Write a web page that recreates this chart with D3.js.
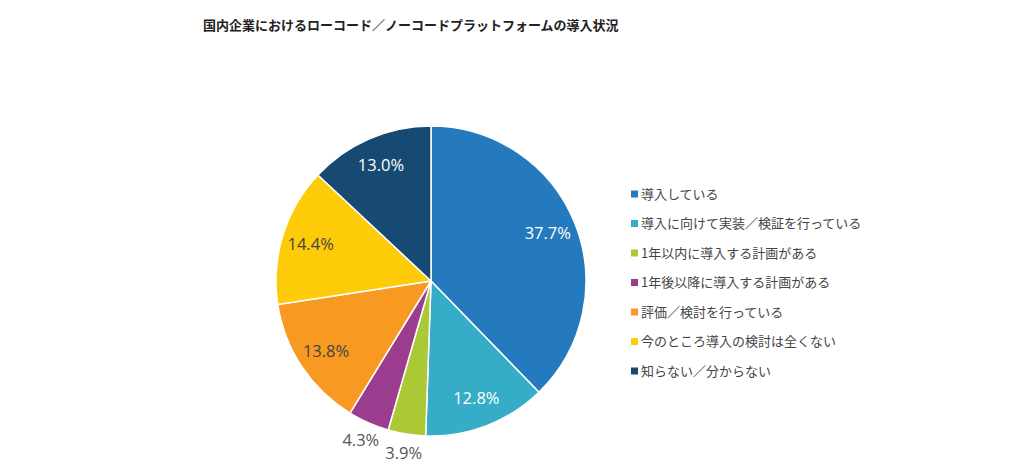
<!DOCTYPE html>
<html><head><meta charset="utf-8">
<script src="https://cdn.jsdelivr.net/npm/d3@7"></script>
<style>
html,body{margin:0;padding:0;background:#fff;}
svg{display:block;}
</style></head>
<body>
<svg id="chart" width="1024" height="466"></svg>
<script>
const title = "国内企業におけるローコード／ノーコードプラットフォームの導入状況";
const categories = ["導入している","導入に向けて実装／検証を行っている","1年以内に導入する計画がある","1年後以降に導入する計画がある","評価／検討を行っている","今のところ導入の検討は全くない","知らない／分からない"];
const values = [37.7, 12.8, 3.9, 4.3, 13.8, 14.4, 13.0];
const colors = ["#2579bd","#36adc6","#abc934","#9b3c8e","#f89a21","#fecb09","#164a72"];
const labelColors = ["#ffffff","#ffffff","#555555","#555555","#444444","#444444","#ffffff"];

const svg = d3.select("#chart");
const font = "'Open Sans','Noto Sans CJK JP',sans-serif";

svg.append("text").attr("x",203).attr("y",30)
  .attr("font-family","'Noto Sans CJK JP',sans-serif").attr("font-weight","bold")
  .attr("font-size",13).attr("fill","#222").text(title);

const cx = 431, cy = 281, R = 155;
const data = categories.map((c,i)=>({name:c,value:values[i],i}));
const pie = d3.pie().value(d=>d.value).sort(null);
const arcs = pie(data);
const arc = d3.arc().innerRadius(0).outerRadius(R);
const g = svg.append("g").attr("transform",`translate(${cx},${cy})`);
g.selectAll("path").data(arcs).enter().append("path")
  .attr("d",arc).attr("fill",d=>colors[d.data.i])
  .attr("stroke","#fff").attr("stroke-width",1.5).attr("stroke-linejoin","round");

const inArc = d3.arc().innerRadius(126).outerRadius(126);
const outArc = d3.arc().innerRadius(174).outerRadius(174);
g.selectAll("text.lbl").data(arcs).enter().append("text")
  .attr("class","lbl")
  .attr("transform",d=>{
    const small = d.data.value < 5;
    const p = (small?outArc:inArc).centroid(d);
    return `translate(${p[0]},${p[1]})`;
  })
  .attr("text-anchor","middle").attr("dy","0.35em")
  .attr("font-family",font).attr("font-size",16.5)
  .attr("fill",d=>labelColors[d.data.i])
  .text(d=>d.data.value.toFixed(1)+"%");

const lg = svg.append("g").attr("transform","translate(631,194)");
const rowH = 29.5;
const items = lg.selectAll("g").data(data).enter().append("g")
  .attr("transform",(d,i)=>`translate(0,${i*rowH})`);
items.append("rect").attr("x",0).attr("y",-3.5).attr("width",7).attr("height",7)
  .attr("fill",d=>colors[d.i]);
items.append("text").attr("x",10).attr("y",0).attr("dy","0.35em")
  .attr("font-family","'Noto Sans CJK JP',sans-serif").attr("font-size",13)
  .attr("fill","#444").text(d=>d.name);
</script>
</body></html>
